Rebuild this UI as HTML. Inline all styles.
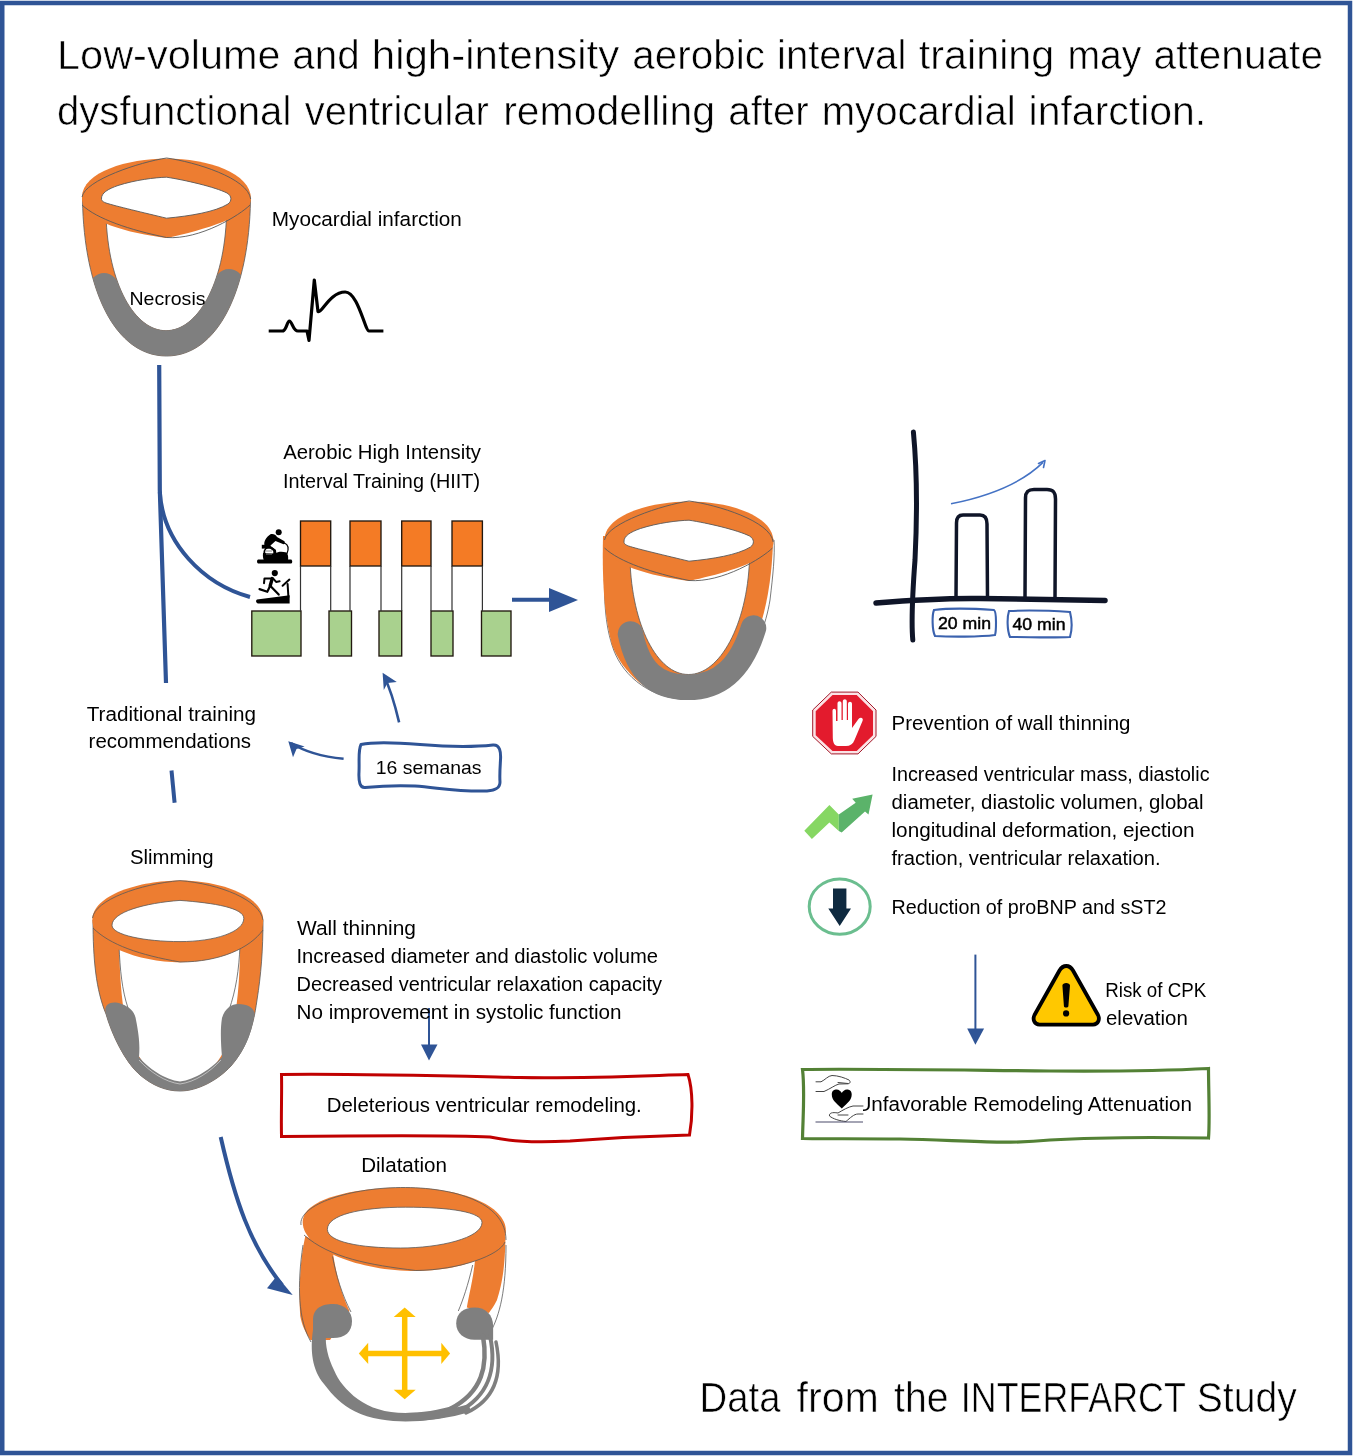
<!DOCTYPE html>
<html><head><meta charset="utf-8">
<style>
html,body{margin:0;padding:0;background:#fff;}
body{width:1353px;height:1456px;overflow:hidden;position:relative;}
svg{position:absolute;left:0;top:0;will-change:transform;}
text{font-family:"Liberation Sans",sans-serif;fill:#000;stroke:#fff;stroke-width:0px;paint-order:normal;}
text.big{stroke-width:0.6px;}
</style></head>
<body>
<svg width="1353" height="1456" viewBox="0 0 1353 1456">
<!-- frame -->
<rect x="2.25" y="3" width="1347.75" height="1450" fill="none" stroke="#2F5496" stroke-width="4.5"/>

<!-- ===== HEART 1 ===== -->
<defs>
  <clipPath id="body1"><path clip-rule="evenodd" d="M82.5,190 L82.5,200 C84,290 115,356 166.5,356 C218,356 249,290 250.5,200 L250.5,190 Z M106,190 L106,215 C108,285 135,330.7 166,330.7 C197,330.7 224.5,285 226.5,215 L226.5,190 Z"/></clipPath>
  
</defs>
<g id="heart1">
  <path d="M82.5,196 L82.5,200 C84,290 115,356 166.5,356 C218,356 249,290 250.5,200 L250.5,199 Z" fill="#ED7D31" stroke="#595959" stroke-width="0.8"/>
  <path d="M106,215 C108,285 135,330.7 166,330.7 C197,330.7 224.5,285 226.5,215 Z" fill="#fff" stroke="#595959" stroke-width="0.8"/>
  <path clip-path="url(#body1)" d="M104,288 C118,322 140,343.3 166.5,343.3 C193,343.3 215,322 229,284" fill="none" stroke="#7F7F7F" stroke-width="30" stroke-linecap="round"/>
  <g>
    <path d="M82,197 C82,172 128,158.5 166.5,158.5 C208,158.5 251,173 251,199 C251,216 204,230 166.5,238 C128,233 84,222 82,200 Z" fill="#ED7D31"/>
    <path d="M82,197 C85,180 140,162 166.6,158 C195,162 248,178 250.7,199 M82,205 C97,219 130,230 166.5,237.5 C200,240 240,215 250,205" fill="none" stroke="#595959" stroke-width="0.9"/>
    <path d="M101.5,199 C101,193 108,189 118,185.5 C135,180 155,177.5 166.5,177.2 C185,180 215,187 227,193 C232,196 232,201 228,204 C215,212 190,216 166.5,218.2 C145,213 115,206 106,203 C102,201.5 101.5,200 101.5,199 Z" fill="#fff" stroke="#595959" stroke-width="0.9"/>
  </g>
</g>
<text x="129.5" y="305" font-size="19" textLength="76" lengthAdjust="spacingAndGlyphs">Necrosis</text>

<!-- ECG -->
<path d="M268.7,331 L283,331 C287,329 287,321 289.4,321 C292,321 293,331 298,331 L307,331 L309,340.4 L314.3,280 L318,311.5 C322,313 330,292 345.2,292 C358,292 365,331 369,331 L383.4,331" fill="none" stroke="#000" stroke-width="3.2" stroke-linejoin="round"/>

<!-- ===== BLUE CONNECTORS ===== -->
<path d="M159.2,365 L159.8,490 L166,683" fill="none" stroke="#2F5496" stroke-width="4.2"/>
<path d="M159.8,492 C163,543 203,584 250,597" fill="none" stroke="#2F5496" stroke-width="4"/>
<path d="M171.5,770.5 L174.6,802.8" fill="none" stroke="#2F5496" stroke-width="4"/>

<!-- ===== HIIT WAVE ===== -->
<g stroke="#22180f" stroke-width="1.35">
  <rect x="300.5" y="521" width="30.2" height="45" fill="#F47B25"/>
  <rect x="350" y="521" width="31" height="45" fill="#F47B25"/>
  <rect x="401.7" y="521" width="29.3" height="45" fill="#F47B25"/>
  <rect x="452" y="521" width="30.4" height="45" fill="#F47B25"/>
  <rect x="251.8" y="611" width="49.2" height="45" fill="#A9D18E"/>
  <rect x="329" y="611" width="22.5" height="45" fill="#A9D18E"/>
  <rect x="379" y="611" width="22.7" height="45" fill="#A9D18E"/>
  <rect x="431" y="611" width="22" height="45" fill="#A9D18E"/>
  <rect x="481.5" y="611" width="29.5" height="45" fill="#A9D18E"/>
  <path d="M300.5,566 V611 M330.7,566 V611 M350,566 V611 M381,566 V611 M401.7,566 V611 M431,566 V611 M452,566 V611 M482.4,566 V611" fill="none" stroke="#333" stroke-width="1.2"/>
</g>
<!-- cyclist icon -->
<g fill="#000">
  <circle cx="278.7" cy="532.2" r="3"/>
  <path d="M270.9,534.1 C273,533.5 276,534.5 277,537 L284.5,541.3 L285,543.8 L283.5,544.2 L275.5,541 L270.5,545.5 L264.5,545.5 C263.5,542 266,537 270.9,534.1 Z"/>
  <path d="M261.8,544.8 L270.4,544.8 L270.4,548.6 L261.8,548.6 Z"/>
  <path d="M263,553 C262.5,557 263.5,559.5 264,560.5 L288,560.5 C288.5,557 288,554 286.5,552.5 C282,551.3 278,551.5 275,553.5 Z"/>
  <path d="M258,559.5 L291.3,559.5 C292.6,560.5 292.6,563 291.3,563.6 L258,563.6 C256.7,563 256.7,560 258,559.5 Z"/>
</g>
<g fill="none" stroke="#000" stroke-linecap="round" stroke-linejoin="round">
  <path d="M268.5,546 L274.8,550.5 L275.5,556" stroke-width="2.4"/>
  <circle cx="269.3" cy="552.3" r="5" stroke-width="1.8"/>
  <path d="M284.5,543 C287.8,544.5 289,548.5 287,553.5" stroke-width="1.2"/>
</g>
<path d="M266,551 H272 M266,554 H272" stroke="#888" stroke-width="1"/>
<!-- runner on treadmill -->
<g fill="#000">
  <circle cx="274.8" cy="573.1" r="3.1"/>
  <path d="M257,599.6 L289.6,595.3 L289.6,603.5 L258,603.5 C256,603.2 255.4,600.5 257,599.6 Z"/>
</g>
<g fill="none" stroke="#000" stroke-linecap="round" stroke-linejoin="round">
  <path d="M264,583.2 L264.5,578.4 L273,578.4 L276.1,581.9 L279.6,581.3" stroke-width="2"/>
  <path d="M272.2,578.6 L270.2,585.8" stroke-width="3.4"/>
  <path d="M270.2,585.8 L267.3,591.8 L259.5,589.1" stroke-width="2.2"/>
  <path d="M270.2,585.8 L278.7,594.6" stroke-width="2.2"/>
  <path d="M288.4,597 L287.6,584" stroke-width="2"/>
  <path d="M282.6,585.8 L289.4,579.6" stroke-width="2"/>
</g>
<!-- right arrow -->
<path d="M512,599.7 H552" stroke="#2F5496" stroke-width="4"/>
<path d="M549,588 L578,600 L549,612 Z" fill="#2F5496"/>

<!-- ===== HEART 2 ===== -->
<g id="heart2">
  <path d="M606,540 C603,590 604,620 612,645 C620,672 645,697 685,699.5 C730,699.5 762,650 770,600 C773,575 775,555 774,540 Z" fill="#fff" stroke="#595959" stroke-width="0.8"/>
  <path d="M603,536 C602,580 604,615 612,645 C622,672 650,699.5 687.5,699.5 C739,699.5 770,633 773,543 L773,540 Z" fill="#ED7D31"/>
  <path d="M630,560 C632,625 657,674.5 688.5,674.5 C720,674.5 747,625 749.5,560 Z" fill="#fff" stroke="#595959" stroke-width="0.8"/>
  <path d="M630.5,634 C638,670 655,687.3 688,687.3 C722,687.3 742,665 753.5,628" fill="none" stroke="#7F7F7F" stroke-width="25.5" stroke-linecap="round"/>
  <g transform="translate(522.5,343)">
    <path d="M82,197 C82,172 128,158.5 166.5,158.5 C208,158.5 251,173 251,199 C251,216 204,230 166.5,238 C128,233 84,222 82,200 Z" fill="#ED7D31"/>
    <path d="M82,197 C85,180 140,162 166.6,158 C195,162 248,178 250.7,199 M82,205 C97,219 130,230 166.5,237.5 C200,240 240,215 250,205" fill="none" stroke="#595959" stroke-width="0.9"/>
    <path d="M101.5,199 C101,193 108,189 118,185.5 C135,180 155,177.5 166.5,177.2 C185,180 215,187 227,193 C232,196 232,201 228,204 C215,212 190,216 166.5,218.2 C145,213 115,206 106,203 C102,201.5 101.5,200 101.5,199 Z" fill="#fff" stroke="#595959" stroke-width="0.9"/>
  </g>
</g>

<!-- ===== BAR CHART ===== -->
<g fill="none" stroke="#0F1528" stroke-linecap="round">
  <path d="M913.4,432 C917,470 917,520 915,560 C912,600 911,620 912.8,640" stroke-width="5"/>
  <path d="M876,603 C900,601 940,598 980,598.5 C1030,599 1070,600 1105,600.5" stroke-width="5.5"/>
  <path d="M956,598 L956.5,523 C956.5,517 959,515 963,515 L980,515 C985,515 987,518 987,524 L987.5,598" stroke-width="3.5"/>
  <path d="M1025,598 L1025.5,498 C1025.5,491 1029,489.5 1034,489.5 L1047,489.5 C1053,489.5 1055.5,492 1055.5,499 L1055,598" stroke-width="3.5"/>
</g>
<path d="M951,503.8 C985,497 1020,485 1043,462.4" fill="none" stroke="#4472C4" stroke-width="1.6"/>
<path d="M1045,460.5 L1038.5,463.5 M1045,460.5 L1043.5,467.5" fill="none" stroke="#4472C4" stroke-width="1.6" stroke-linecap="round"/>
<path d="M934,610 C950,608 980,609 994,610 C997,612 996,632 995,635 C980,637 950,637 935,636 C932,630 932,615 934,610 Z" fill="none" stroke="#3B62AE" stroke-width="2.1"/>
<path d="M1009,611 C1030,610 1055,611 1070,612 C1072,620 1072,630 1070,637 C1050,638 1030,637 1010,637 C1007,630 1007,617 1009,611 Z" fill="none" stroke="#3B62AE" stroke-width="2.1"/>
<text x="938" y="629" font-size="16" style="stroke:#000;stroke-width:0.45px" textLength="53" lengthAdjust="spacingAndGlyphs">20 min</text>
<text x="1012.5" y="630" font-size="16" style="stroke:#000;stroke-width:0.45px" textLength="53" lengthAdjust="spacingAndGlyphs">40 min</text>

<!-- ===== 16 SEMANAS ===== -->
<path d="M361,744.5 C375,741.5 395,742.5 420,744.5 C450,747 470,747.5 493,745 C500,744.5 501,752 500.5,760 C500,768 499.5,775 500,782 C500,789 494,790.5 487,791 C460,792 440,788 415,786 C395,785 375,786.5 365,787.5 C360,788 358.5,782 359,772 C359.5,760 358,750 361,744.5 Z" fill="none" stroke="#2F5496" stroke-width="3"/>
<path d="M399.1,722.4 C395,705 390,688 384,676" fill="none" stroke="#2F5496" stroke-width="2.6"/>
<path d="M382.6,672.8 L383.8,690 L387.5,683 L396.8,682 Z" fill="#2F5496"/>
<path d="M343.6,758.8 C325,757 305,752 291,743" fill="none" stroke="#2F5496" stroke-width="2.6"/>
<path d="M288.3,741.2 L293,757.2 L296.5,749 L304.6,746.4 Z" fill="#2F5496"/>

<!-- ===== HEART 3 (slimming) ===== -->
<g id="heart3">
  <path d="M93,920 C93,960 96,990 106,1014 C112,1035 125,1062 140,1075 C152,1085 165,1091 180,1091 C198,1091 218,1080 231,1066 C245,1050 253,1030 257,1000 C261,975 263,950 263,920 Z" fill="#ED7D31" stroke="#595959" stroke-width="0.8"/>
  <path d="M119,945 C120,980 122,1010 128,1030 C135,1060 160,1087 180,1087 C200,1087 225,1060 232,1030 C237,1010 240,980 240,945 Z" fill="#fff"/>
  <path d="M119,945 C120,970 122,990 128,1008 M240,945 C239,970 236,990 229,1010" fill="none" stroke="#595959" stroke-width="0.8"/>
  <path d="M106,1014 C103,1005 110,1000 121.5,1004 C130,1007 135,1012 136,1020 C139,1035 140,1045 139,1057 C148,1068 165,1080 180,1081.5 C195,1080 212,1068 222,1057 C221,1045 220,1030 222,1018 C225,1008 232,1004 238,1004 C248,1004 255,1008 254.5,1015 C251,1035 245,1050 231,1066 C218,1080 198,1091 180,1091 C165,1091 152,1085 140,1075 C125,1062 112,1035 106,1014 Z" fill="#7F7F7F"/>
  <path d="M139,1060 C150,1072 165,1082 180,1084 C195,1082 210,1072 221,1060" fill="none" stroke="#fff" stroke-width="0.7" opacity="0.7"/>
  <path d="M92.3,920 C92.3,895 140,880.6 180,880.6 C222,880.6 263.2,897 263.2,920 C263.2,945 222,962.2 180,962.2 C138,962.2 92.3,945 92.3,920 Z" fill="#ED7D31"/>
  <path d="M92.5,918 C95,900 140,884 180,880.6 C220,884 260,900 263,920 M93,928 C110,945 140,955 180,962 C220,962 250,948 263,930" fill="none" stroke="#595959" stroke-width="0.8"/>
  <path d="M112,925.3 C112,912 145,903 180,900.4 C215,903 243.8,908 243.8,918.4 C243.8,932 215,941.6 180,941.6 C145,941.6 112,935 112,925.3 Z" fill="#fff" stroke="#595959" stroke-width="0.8"/>
</g>

<!-- ===== WALL THINNING arrow & red box ===== -->
<path d="M429,1008 V1046" stroke="#2F5496" stroke-width="2"/>
<path d="M421,1044.6 L437.5,1044.6 L429,1060.5 Z" fill="#2F5496"/>
<path d="M281.5,1074.5 C350,1073.5 450,1076 520,1077.5 C590,1078.5 650,1075.5 688,1074.5 C693,1090 693,1115 689.5,1135 C650,1136 610,1138 570,1141 C530,1143 510,1141 490,1137 C450,1135 330,1136 281.5,1136.5 C281,1115 282,1090 281.5,1074.5 Z" fill="none" stroke="#C00000" stroke-width="3"/>

<!-- ===== DILATATION arrow ===== -->
<path d="M220.7,1137 C235,1200 250,1245 282,1285" fill="none" stroke="#2F5496" stroke-width="4"/>
<path d="M292.7,1295 L267,1288.3 L276.8,1276 Z" fill="#2F5496"/>

<!-- ===== HEART 4 (dilatation) ===== -->
<g id="heart4">
  <path d="M305.3,1236 C300,1260 298.5,1290 300.2,1316 C302,1326 306,1333 310.4,1340 L330,1340 L349.5,1311 C342,1295 336,1275 332.5,1250 Z" fill="#ED7D31"/>
  <path d="M505.5,1236 C505,1270 501.6,1285 497,1300 C494,1306 491,1310 488.9,1313 L466.8,1307.5 C470,1290 473,1280 475.3,1258 Z" fill="#ED7D31"/>
  <path d="M303,1245 C297,1285 298,1320 311,1342 M332.5,1256.5 C336,1275 342,1295 351,1312 M472.7,1265 C468,1285 463,1300 458.3,1311 M506,1245 C506,1290 500,1315 490,1333" fill="none" stroke="#595959" stroke-width="0.8"/>
  <g fill="#7F7F7F">
    <path d="M313,1330 C310,1350 312,1370 324,1384 C333,1396 342,1405 354.6,1411.2 C370,1419 390,1421.4 405.6,1421.4 C425,1421.4 445,1418 460,1412.9 L456,1405 C440,1410 420,1413 405.6,1413 C385,1413 370,1408 358,1399.3 C346,1390 338,1380 334.2,1370.4 C328,1358 325,1345 326,1335 Z"/>
    <path d="M313,1320 C313,1308 322,1304 333,1304 C345,1304 352,1312 352,1321 C352,1332 345,1338 333,1338 L313,1338 Z"/>
    <path d="M456.2,1323.6 C456.2,1313 464,1307.5 474.4,1307.5 C486,1307.5 493.1,1315 493.1,1326 L493.1,1339.8 L474.4,1339.8 C464,1339.8 456.2,1333 456.2,1323.6 Z"/>
  </g>
  <g fill="none" stroke="#7F7F7F" stroke-linecap="round">
    <path d="M483,1336 C488,1365 483,1392 450,1409" stroke-width="4.5"/>
    <path d="M490,1336 C497,1368 489,1396 458,1412" stroke-width="4"/>
    <path d="M496,1342 C503,1375 494,1400 466,1413" stroke-width="3.5"/>
    <path d="M405,1417 C430,1417 450,1414 466,1409" stroke-width="8"/>
  </g>
  <path d="M302.7,1222 C302.7,1200 350,1187.6 405.6,1187.6 C460,1187.6 505.9,1205 505.9,1231 C505.9,1255 460,1271 415.8,1271 C360,1271 302.7,1250 302.7,1222 Z" fill="#ED7D31"/>
  <path d="M301,1225 C298,1205 350,1187 405.6,1187.5 C460,1188 506,1205 506,1240 M304,1235 C330,1258 370,1265 415.8,1270.5 C460,1270 500,1255 505,1242" fill="none" stroke="#595959" stroke-width="0.8"/>
  <path d="M327.4,1229.3 C327.4,1215 360,1207.2 405.6,1207.2 C450,1207.2 482,1212 482,1222.5 C482,1238 440,1248 400.5,1248 C360,1248 327.4,1242 327.4,1229.3 Z" fill="#fff" stroke="#595959" stroke-width="0.8"/>
  <g stroke="#FFC000" stroke-width="5.5" fill="none">
    <path d="M404.7,1314 V1392 M365,1353.4 H444"/>
  </g>
  <g fill="#FFC000">
    <path d="M404.7,1307.5 L393.7,1317 L415.7,1317 Z"/>
    <path d="M404.7,1399.3 L393.7,1389.8 L415.7,1389.8 Z"/>
    <path d="M358.8,1353.4 L368.2,1342.8 L368.2,1364 Z"/>
    <path d="M450.1,1353.4 L441.3,1342.8 L441.3,1364 Z"/>
  </g>
</g>

<!-- ===== RIGHT ICONS ===== -->
<g id="stop">
  <path d="M831.3,692.1 L858,692.1 L876,710 L876,736.4 L858,753.9 L831.3,753.9 L812.7,736.4 L812.7,710 Z" fill="#fbe3e6" stroke="#A3192A" stroke-width="1"/>
  <path d="M831.3,692.1 L858,692.1 L876,710 L876,736.4 L858,753.9 L831.3,753.9 L812.7,736.4 L812.7,710 Z" transform="translate(844.35,723) scale(0.905) translate(-844.35,-723)" fill="#E31B2D"/>
  <path d="M832.5,711 C832.5,708 836,708 836,711 L836,721 L837.5,721 L837.5,703.5 C837.5,700.5 841.5,700.5 841.5,703.5 L841.5,720 L842.8,720 L842.8,701.5 C842.8,698.5 846.8,698.5 846.8,701.5 L846.8,720 L848,720 L848,704 C848,701 852,701 852,704 L852,728 L858.5,719 C860.5,716.5 864,718 862.5,721 L854.5,740 C853,744 850,746 846,746 L838,746 C834,746 833,742 832.8,738 Z" fill="#fff"/>
</g>
<g id="trend">
  <path d="M804.3,830.8 L829.4,805.1 L838.8,814.4 L838.8,831 L829.4,822.6 L811.9,839 Z" fill="#86D763"/>
  <path d="M838.8,814.4 L855.7,802.8 L852.2,798.7 L872.6,794.6 L868.5,814.4 L865,811.5 L841.7,832.5 L838.8,831 Z" fill="#5BB36A"/>
</g>
<g id="down">
  <ellipse cx="839.7" cy="906.6" rx="30.5" ry="27.7" fill="none" stroke="#6BBE8F" stroke-width="3"/>
  <path d="M833,888.6 L846.4,888.6 L846.4,908.4 L851,908.4 L839.7,926 L828.3,908.4 L833,908.4 Z" fill="#0F2A40"/>
</g>
<!-- right down arrow -->
<path d="M975.4,954.6 V1030" stroke="#2F5496" stroke-width="2"/>
<path d="M967.2,1028.5 L984.1,1028.5 L975.4,1044.7 Z" fill="#2F5496"/>
<!-- warning -->
<g id="warn">
  <path d="M1066.3,966 C1063,966 1061,968 1059.5,970.5 L1034.5,1015 C1032.5,1019 1034,1024.6 1039.5,1024.6 L1093,1024.6 C1098.5,1024.6 1100,1019 1098,1015 L1073,970.5 C1071.5,968 1069.5,966 1066.3,966 Z" fill="#FFC800" stroke="#000" stroke-width="3.8" stroke-linejoin="round"/>
  <path d="M1062.4,985.5 C1062.4,982 1070,982 1070,985.5 L1068.4,1006 C1068.3,1008 1064,1008 1063.9,1006 Z" fill="#000"/>
  <circle cx="1066.1" cy="1013.4" r="3.1" fill="#000"/>
</g>
<!-- green box -->
<path d="M802.5,1069.5 C850,1068.5 950,1070 1050,1071 C1120,1071.5 1180,1070 1208.5,1068.5 C1208.5,1090 1210,1120 1208.5,1138 C1150,1137 1100,1137 1050,1140 C1000,1145 960,1140 900,1139 C860,1138.5 820,1139 802.5,1138.5 C803,1115 805,1090 802.5,1069.5 Z" fill="none" stroke="#538135" stroke-width="3.2"/>

<!-- ===== TITLE ===== -->
<g id="texts">
<text class="big" x="57.0" y="68.8" font-size="41.5" textLength="223.6" lengthAdjust="spacingAndGlyphs">Low-volume</text>
<text class="big" x="292.3" y="68.8" font-size="41.5" textLength="67.3" lengthAdjust="spacingAndGlyphs">and</text>
<text class="big" x="371.8" y="68.8" font-size="41.5" textLength="247.5" lengthAdjust="spacingAndGlyphs">high-intensity</text>
<text class="big" x="632.3" y="68.8" font-size="41.5" textLength="132.6" lengthAdjust="spacingAndGlyphs">aerobic</text>
<text class="big" x="777.0" y="68.8" font-size="41.5" textLength="129.3" lengthAdjust="spacingAndGlyphs">interval</text>
<text class="big" x="918.8" y="68.8" font-size="41.5" textLength="135.5" lengthAdjust="spacingAndGlyphs">training</text>
<text class="big" x="1067.4" y="68.8" font-size="41.5" textLength="74.0" lengthAdjust="spacingAndGlyphs">may</text>
<text class="big" x="1153.6" y="68.8" font-size="41.5" textLength="169.4" lengthAdjust="spacingAndGlyphs">attenuate</text>
<text class="big" x="56.9" y="124.8" font-size="41.5" textLength="234.5" lengthAdjust="spacingAndGlyphs">dysfunctional</text>
<text class="big" x="304.7" y="124.8" font-size="41.5" textLength="184.1" lengthAdjust="spacingAndGlyphs">ventricular</text>
<text class="big" x="503.2" y="124.8" font-size="41.5" textLength="211.8" lengthAdjust="spacingAndGlyphs">remodelling</text>
<text class="big" x="728.3" y="124.8" font-size="41.5" textLength="80.4" lengthAdjust="spacingAndGlyphs">after</text>
<text class="big" x="821.7" y="124.8" font-size="41.5" textLength="194.0" lengthAdjust="spacingAndGlyphs">myocardial</text>
<text class="big" x="1028.6" y="124.8" font-size="41.5" textLength="177.6" lengthAdjust="spacingAndGlyphs">infarction.</text>
<text x="271.8" y="226" font-size="20.5" textLength="190" lengthAdjust="spacingAndGlyphs">Myocardial infarction</text>
<text x="283.2" y="458.8" font-size="20" textLength="197.8" lengthAdjust="spacingAndGlyphs">Aerobic High Intensity</text>
<text x="283" y="487.5" font-size="20" textLength="197" lengthAdjust="spacingAndGlyphs">Interval Training (HIIT)</text>
<text x="86.7" y="720.5" font-size="20" textLength="169.3" lengthAdjust="spacingAndGlyphs">Traditional training</text>
<text x="88.6" y="747.7" font-size="20" textLength="162.5" lengthAdjust="spacingAndGlyphs">recommendations</text>
<text x="375.8" y="773.5" font-size="19" textLength="105.7" lengthAdjust="spacingAndGlyphs">16 semanas</text>
<text x="130" y="864" font-size="20" textLength="83.6" lengthAdjust="spacingAndGlyphs">Slimming</text>
<text x="297" y="935" font-size="20" textLength="119" lengthAdjust="spacingAndGlyphs">Wall thinning</text>
<text x="296.5" y="963" font-size="20" textLength="361.5" lengthAdjust="spacingAndGlyphs">Increased diameter and diastolic volume</text>
<text x="296.5" y="991.2" font-size="20" textLength="365.5" lengthAdjust="spacingAndGlyphs">Decreased ventricular relaxation capacity</text>
<text x="296.5" y="1018.5" font-size="20" textLength="325" lengthAdjust="spacingAndGlyphs">No improvement in systolic function</text>
<text x="326.8" y="1112.3" font-size="20" textLength="315" lengthAdjust="spacingAndGlyphs">Deleterious ventricular remodeling.</text>
<text x="361.2" y="1171.7" font-size="20" textLength="85.8" lengthAdjust="spacingAndGlyphs">Dilatation</text>
<text x="891.5" y="730.4" font-size="20" textLength="239" lengthAdjust="spacingAndGlyphs">Prevention of wall thinning</text>
<text x="891.5" y="780.8" font-size="20" textLength="318" lengthAdjust="spacingAndGlyphs">Increased ventricular mass, diastolic</text>
<text x="891.5" y="808.5" font-size="20" textLength="312" lengthAdjust="spacingAndGlyphs">diameter, diastolic volumen, global</text>
<text x="891.5" y="837" font-size="20" textLength="303" lengthAdjust="spacingAndGlyphs">longitudinal deformation, ejection</text>
<text x="891.5" y="864.7" font-size="20" textLength="269" lengthAdjust="spacingAndGlyphs">fraction, ventricular relaxation.</text>
<text x="891.5" y="913.5" font-size="20" textLength="275" lengthAdjust="spacingAndGlyphs">Reduction of proBNP and sST2</text>
<text x="1105.2" y="997" font-size="20" textLength="101" lengthAdjust="spacingAndGlyphs">Risk of CPK</text>
<text x="1106" y="1025" font-size="20" textLength="81.8" lengthAdjust="spacingAndGlyphs">elevation</text>
<text x="856.5" y="1110.7" font-size="20" textLength="335.5" lengthAdjust="spacingAndGlyphs">Unfavorable Remodeling Attenuation</text>
<text class="big" x="699.5" y="1412.2" font-size="42" textLength="81.0" lengthAdjust="spacingAndGlyphs">Data</text>
<text class="big" x="796.5" y="1412.2" font-size="42" textLength="82.4" lengthAdjust="spacingAndGlyphs">from</text>
<text class="big" x="894.0" y="1412.2" font-size="42" textLength="54.5" lengthAdjust="spacingAndGlyphs">the</text>
<text class="big" x="960.8" y="1412.2" font-size="42" textLength="225.1" lengthAdjust="spacingAndGlyphs">INTERFARCT</text>
<text class="big" x="1196.7" y="1412.2" font-size="42" textLength="100.0" lengthAdjust="spacingAndGlyphs">Study</text>
</g>

<!-- hands heart icon (covers part of U) -->
<g id="hands">
  <rect x="815" y="1074" width="48" height="50" fill="#fff"/>
  <path d="M841.8,1108.4 C836,1103 831.8,1100 831.8,1094.5 C831.8,1090.5 834.5,1089.6 836.5,1089.6 C839,1089.6 841,1091.5 841.8,1093 C842.6,1091.5 844.6,1089.6 847,1089.6 C849,1089.6 851.7,1090.5 851.7,1094.5 C851.7,1100 847.6,1103 841.8,1108.4 Z" fill="#000"/>
  <g fill="none" stroke="#444" stroke-width="1" stroke-linecap="round">
    <path d="M816,1081.8 L821,1081.8 C825,1080 828,1075.8 832,1075.5 C838,1075.5 845,1078 849,1080 C851,1081.5 850,1084 848,1083.5 L838,1082.5"/>
    <path d="M816,1091.5 L824,1091.5 C830,1089 835,1085 839,1084 L848,1083.8"/>
    <path d="M863,1106 L853,1106 C848,1107 843,1110 838,1113 C832,1112 829,1113 829.5,1116 C833,1119 840,1121 846,1121.5 C850,1118 854,1114 858,1114 L863,1114"/>
    <path d="M838,1115 L848,1115"/>
  </g>
  <path d="M815.5,1122 L863,1122" stroke="#4b4b6b" stroke-width="1.2"/>
</g>
</svg>
</body></html>
